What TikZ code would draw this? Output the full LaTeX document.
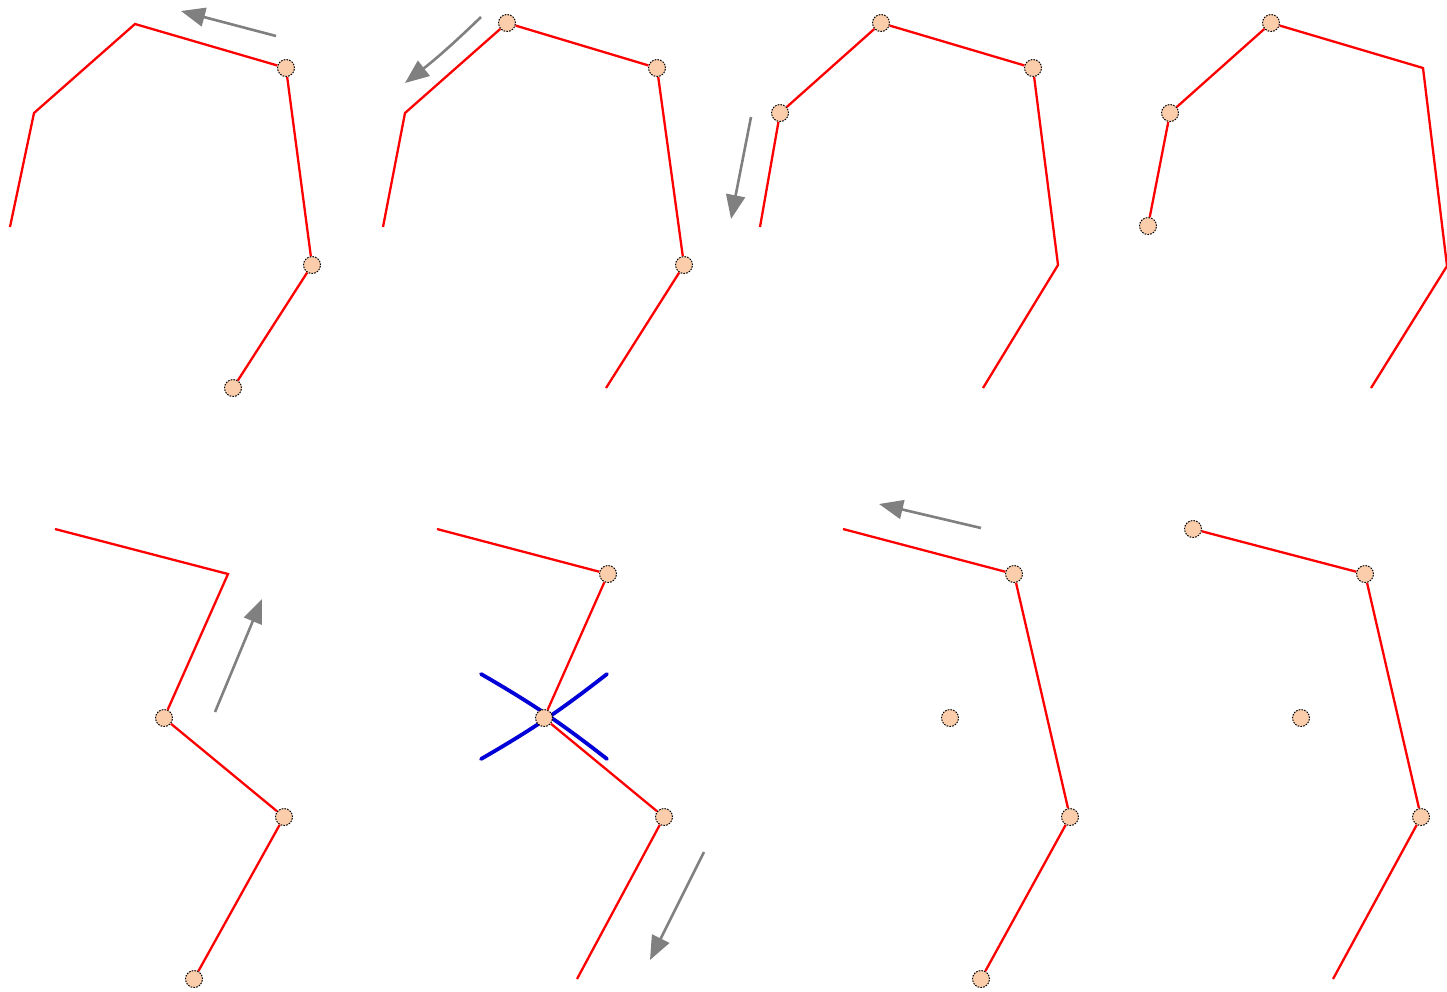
\documentclass[tikz,border=0pt]{standalone}
\usetikzlibrary{arrows.meta}
\definecolor{joint}{RGB}{252,205,170}
\definecolor{linkred}{RGB}{255,0,0}
\definecolor{movegray}{RGB}{128,128,128}
\definecolor{crossblue}{RGB}{0,0,215}
\tikzset{
  jnt/.style={circle,minimum size=17pt,inner sep=0pt,fill=joint,draw=black,dash pattern=on 1.6pt off 1.2pt,line width=1pt},
  link/.style={draw=linkred,line width=2.3pt,line join=miter},
  move/.style={draw=movegray,line width=2.6pt,-{Triangle[length=24pt,width=19pt]}},
  cross/.style={draw=crossblue,line width=3.8pt,line cap=round}
}
\begin{document}
\begin{tikzpicture}[x=1pt,y=-1pt]
\useasboundingbox (0,0) rectangle (1447,991);
% ---------- panel 1
\coordinate (p1a) at (10,227);
\coordinate (p1b) at (34,113);
\coordinate (p1c) at (135,24);
\node[jnt] (n11) at (286,68) {};
\node[jnt] (n12) at (312,265) {};
\node[jnt] (n13) at (233,388) {};
\draw[link] (p1a) -- (p1b) -- (p1c) -- (n11);
\draw[link] (n11) -- (n12);
\draw[link] (n12) -- (n13);
\coordinate (m1s) at (276,36); \coordinate (m1e) at (181,11);
\draw[move] (m1s) -- (m1e);
% ---------- panel 2
\coordinate (p2a) at (383,227);
\coordinate (p2b) at (405,113);
\node[jnt] (n21) at (507,23) {};
\node[jnt] (n22) at (657,68) {};
\node[jnt] (n23) at (684,265) {};
\coordinate (p2e) at (606,388);
\draw[link] (p2a) -- (p2b) -- (n21);
\draw[link] (n21) -- (n22);
\draw[link] (n22) -- (n23);
\draw[link] (n23) -- (p2e);
\coordinate (m2s) at (481,17); \coordinate (m2e) at (405,83);
\draw[move] (m2s) to[bend left=3] (m2e);
% ---------- panel 3
\coordinate (p3a) at (760,227);
\node[jnt] (n31) at (780,113) {};
\node[jnt] (n32) at (881,23) {};
\node[jnt] (n33) at (1033,68) {};
\coordinate (p3d) at (1058,265);
\coordinate (p3e) at (983,388);
\draw[link] (p3a) -- (n31);
\draw[link] (n31) -- (n32);
\draw[link] (n32) -- (n33);
\draw[link] (n33) -- (p3d) -- (p3e);
\coordinate (m3s) at (751,117); \coordinate (m3e) at (731,219);
\draw[move] (m3s) -- (m3e);
% ---------- panel 4
\node[jnt] (n41) at (1148,226) {};
\node[jnt] (n42) at (1170,113) {};
\node[jnt] (n43) at (1271,23) {};
\coordinate (p4c) at (1423,68);
\coordinate (p4d) at (1447,266);
\coordinate (p4e) at (1371,388);
\draw[link] (n41) -- (n42);
\draw[link] (n42) -- (n43);
\draw[link] (n43) -- (p4c) -- (p4d) -- (p4e);
% ---------- panel 5
\coordinate (p5a) at (55,529);
\coordinate (p5b) at (228,574);
\node[jnt] (n51) at (164,718) {};
\node[jnt] (n52) at (284,817) {};
\node[jnt] (n53) at (194,979) {};
\draw[link] (p5a) -- (p5b) -- (n51);
\draw[link] (n51) -- (n52);
\draw[link] (n52) -- (n53);
\coordinate (m5s) at (215,712); \coordinate (m5e) at (262,599);
\draw[move] (m5s) -- (m5e);
% ---------- panel 6
\coordinate (x1a) at (481,674); \coordinate (x1b) at (607,759);
\coordinate (x2a) at (481,759); \coordinate (x2b) at (607,674);
\draw[cross] (x1a) to[bend left=4] (x1b);
\draw[cross] (x2a) to[bend right=4] (x2b);
\coordinate (p6a) at (437,529);
\node[jnt] (n61) at (608,574) {};
\node[jnt] (n62) at (544,718) {};
\node[jnt] (n63) at (664,817) {};
\coordinate (p6e) at (577,979);
\draw[link] (p6a) -- (n61);
\draw[link] (n61) -- (n62);
\draw[link] (n62) -- (n63);
\draw[link] (n63) -- (p6e);
\coordinate (m6s) at (704,852); \coordinate (m6e) at (650,960);
\draw[move] (m6s) -- (m6e);
% ---------- panel 7
\coordinate (p7a) at (843,529);
\node[jnt] (n71) at (1014,574) {};
\node[jnt] (n72) at (1070,817) {};
\node[jnt] (n73) at (981,979) {};
\node[jnt] (n74) at (950,718) {};
\draw[link] (p7a) -- (n71);
\draw[link] (n71) -- (n72);
\draw[link] (n72) -- (n73);
\coordinate (m7s) at (981,528); \coordinate (m7e) at (879,504);
\draw[move] (m7s) -- (m7e);
% ---------- panel 8
\node[jnt] (n81) at (1193,529) {};
\node[jnt] (n82) at (1365,574) {};
\node[jnt] (n83) at (1421,817) {};
\node[jnt] (n84) at (1301,718) {};
\coordinate (p8e) at (1333,979);
\draw[link] (n81) -- (n82);
\draw[link] (n82) -- (n83);
\draw[link] (n83) -- (p8e);
\end{tikzpicture}
\end{document}
